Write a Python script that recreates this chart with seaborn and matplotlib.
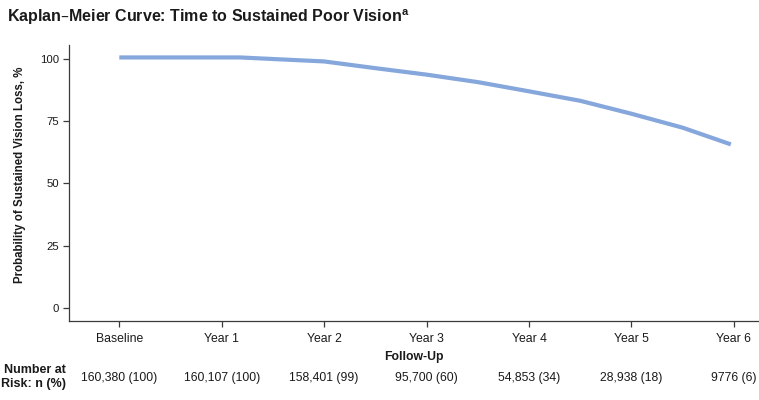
import matplotlib
matplotlib.use("Agg")
import matplotlib.pyplot as plt
import matplotlib.transforms as mtrans
import pandas as pd
import seaborn as sns

# Kaplan-Meier curve (years since baseline, % without sustained loss)
follow_up_years = [0, 1.0, 1.18, 2.0, 2.5, 3.0, 3.5, 4.0, 4.5, 5.0, 5.5, 5.97]
survival_pct = [100.6, 100.6, 100.6, 99.0, 96.3, 93.7, 90.7, 87.0, 83.2, 78.0, 72.4, 65.7]

tick_years = [0, 1, 2, 3, 4, 5, 6]
tick_labels = ["Baseline", "Year 1", "Year 2", "Year 3", "Year 4", "Year 5", "Year 6"]

# Number at risk table
at_risk_n = [160380, 160107, 158401, 95700, 54853, 28938, 9776]
at_risk_pct = [100, 100, 99, 60, 34, 18, 6]

LINE_COLOR = "#85A7DB"
AXIS_COLOR = "#3a3a3a"
TEXT_COLOR = "#1a1a1a"


def fmt_n(n):
    return f"{n:,}" if n >= 10000 else str(n)


sns.set_style("ticks")
plt.rcParams["font.family"] = ["Liberation Sans", "DejaVu Sans"]

df = pd.DataFrame({"years": follow_up_years, "prob": survival_pct})

fig = plt.figure(figsize=(7.59, 4.0), dpi=100)
ax = fig.add_axes([0.0909, 0.1975, 0.909, 0.69])

sns.lineplot(data=df, x="years", y="prob", ax=ax, color=LINE_COLOR,
             linewidth=3.0, solid_capstyle="butt")

ax.set_xlim(-0.491, 6.244)
ax.set_ylim(-5.2, 105.6)
ax.set_xticks(tick_years)
ax.set_xticklabels(tick_labels)
ax.set_yticks([0, 25, 50, 75, 100])

ax.tick_params(axis="both", colors=AXIS_COLOR, labelcolor=TEXT_COLOR,
               length=4, width=0.9, direction="out", pad=3)
ax.tick_params(axis="y", labelsize=8.2)
ax.tick_params(axis="x", labelsize=8.8, pad=5)
for side in ["top", "right"]:
    ax.spines[side].set_visible(False)
for side in ["left", "bottom"]:
    ax.spines[side].set_color(AXIS_COLOR)
    ax.spines[side].set_linewidth(0.9)

ax.set_xlabel("Follow-Up", fontsize=8.8, fontweight="bold", labelpad=4, color=TEXT_COLOR)
ax.set_ylabel("Probability of Sustained Vision Loss, %", fontsize=8.3,
              fontweight="bold", color=TEXT_COLOR)
ax.yaxis.set_label_coords(-0.062, 0.53)

# Number-at-risk row beneath the axis
trans = mtrans.blended_transform_factory(ax.transData, fig.transFigure)
for yr, n, p in zip(tick_years, at_risk_n, at_risk_pct):
    ax.text(yr, 1 - 378 / 400, f"{fmt_n(n)} ({p})", transform=trans,
            ha="center", va="center", fontsize=8.8, color=TEXT_COLOR)
fig.text(66 / 759, 1 - 377 / 400, "Number at\nRisk: n (%)", ha="right", va="center",
         fontsize=9, fontweight="bold", linespacing=1.2, color=TEXT_COLOR)

fig.text(7 / 759, 1 - 17 / 400, "Kaplan\u2013Meier Curve: Time to Sustained Poor Vision$^{\\mathregular{a}}$",
         ha="left", va="center", fontsize=11.5, fontweight="bold", color=TEXT_COLOR)

fig.savefig("out.png", dpi=100)
